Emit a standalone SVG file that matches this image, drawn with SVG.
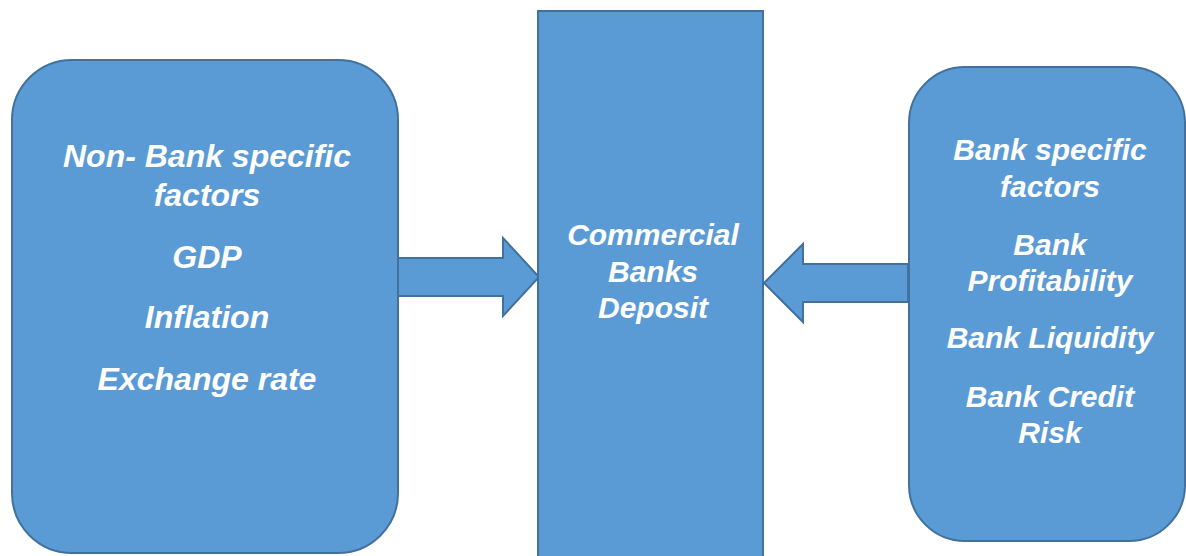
<svg xmlns="http://www.w3.org/2000/svg" width="1186" height="556" viewBox="0 0 1186 556">
<style>
.shape{fill:#5B9BD5;stroke:#41719C;stroke-width:2}
.t{fill:#FFFFFF;font-family:"Liberation Sans",Arial,sans-serif;font-weight:bold;font-style:italic;text-anchor:middle}
.l{font-size:32px}
.r{font-size:30px}
.c{font-size:30px}
</style>
<rect width="1186" height="556" fill="#FFFFFF"/>
<g id="connectors">
<path class="shape" d="M395,258 H503 V238 L539,277 L503,316 V296 H395 Z"/>
<path class="shape" d="M908,264 H803 V244 L764,283 L803,322 V302 H908 Z"/>
</g>
<g id="node-nonbank">
<rect class="shape" x="12" y="60" width="386" height="493" rx="60" ry="60"/>
<text class="t l" x="207" y="167">Non- Bank specific</text>
<text class="t l" x="207" y="206">factors</text>
<text class="t l" x="207" y="268">GDP</text>
<text class="t l" x="207" y="328">Inflation</text>
<text class="t l" x="207" y="390">Exchange rate</text>
</g>
<g id="node-deposit">
<rect class="shape" x="538" y="11" width="225" height="546"/>
<text class="t c" x="653" y="245">Commercial</text>
<text class="t c" x="653" y="282">Banks</text>
<text class="t c" x="653" y="318">Deposit</text>
</g>
<g id="node-bank">
<rect class="shape" x="909" y="67" width="276" height="474" rx="56" ry="56"/>
<text class="t r" x="1050" y="160">Bank specific</text>
<text class="t r" x="1050" y="197">factors</text>
<text class="t r" x="1050" y="255">Bank</text>
<text class="t r" x="1050" y="291">Profitability</text>
<text class="t r" x="1050" y="348">Bank Liquidity</text>
<text class="t r" x="1050" y="407">Bank Credit</text>
<text class="t r" x="1050" y="443">Risk</text>
</g>
</svg>
